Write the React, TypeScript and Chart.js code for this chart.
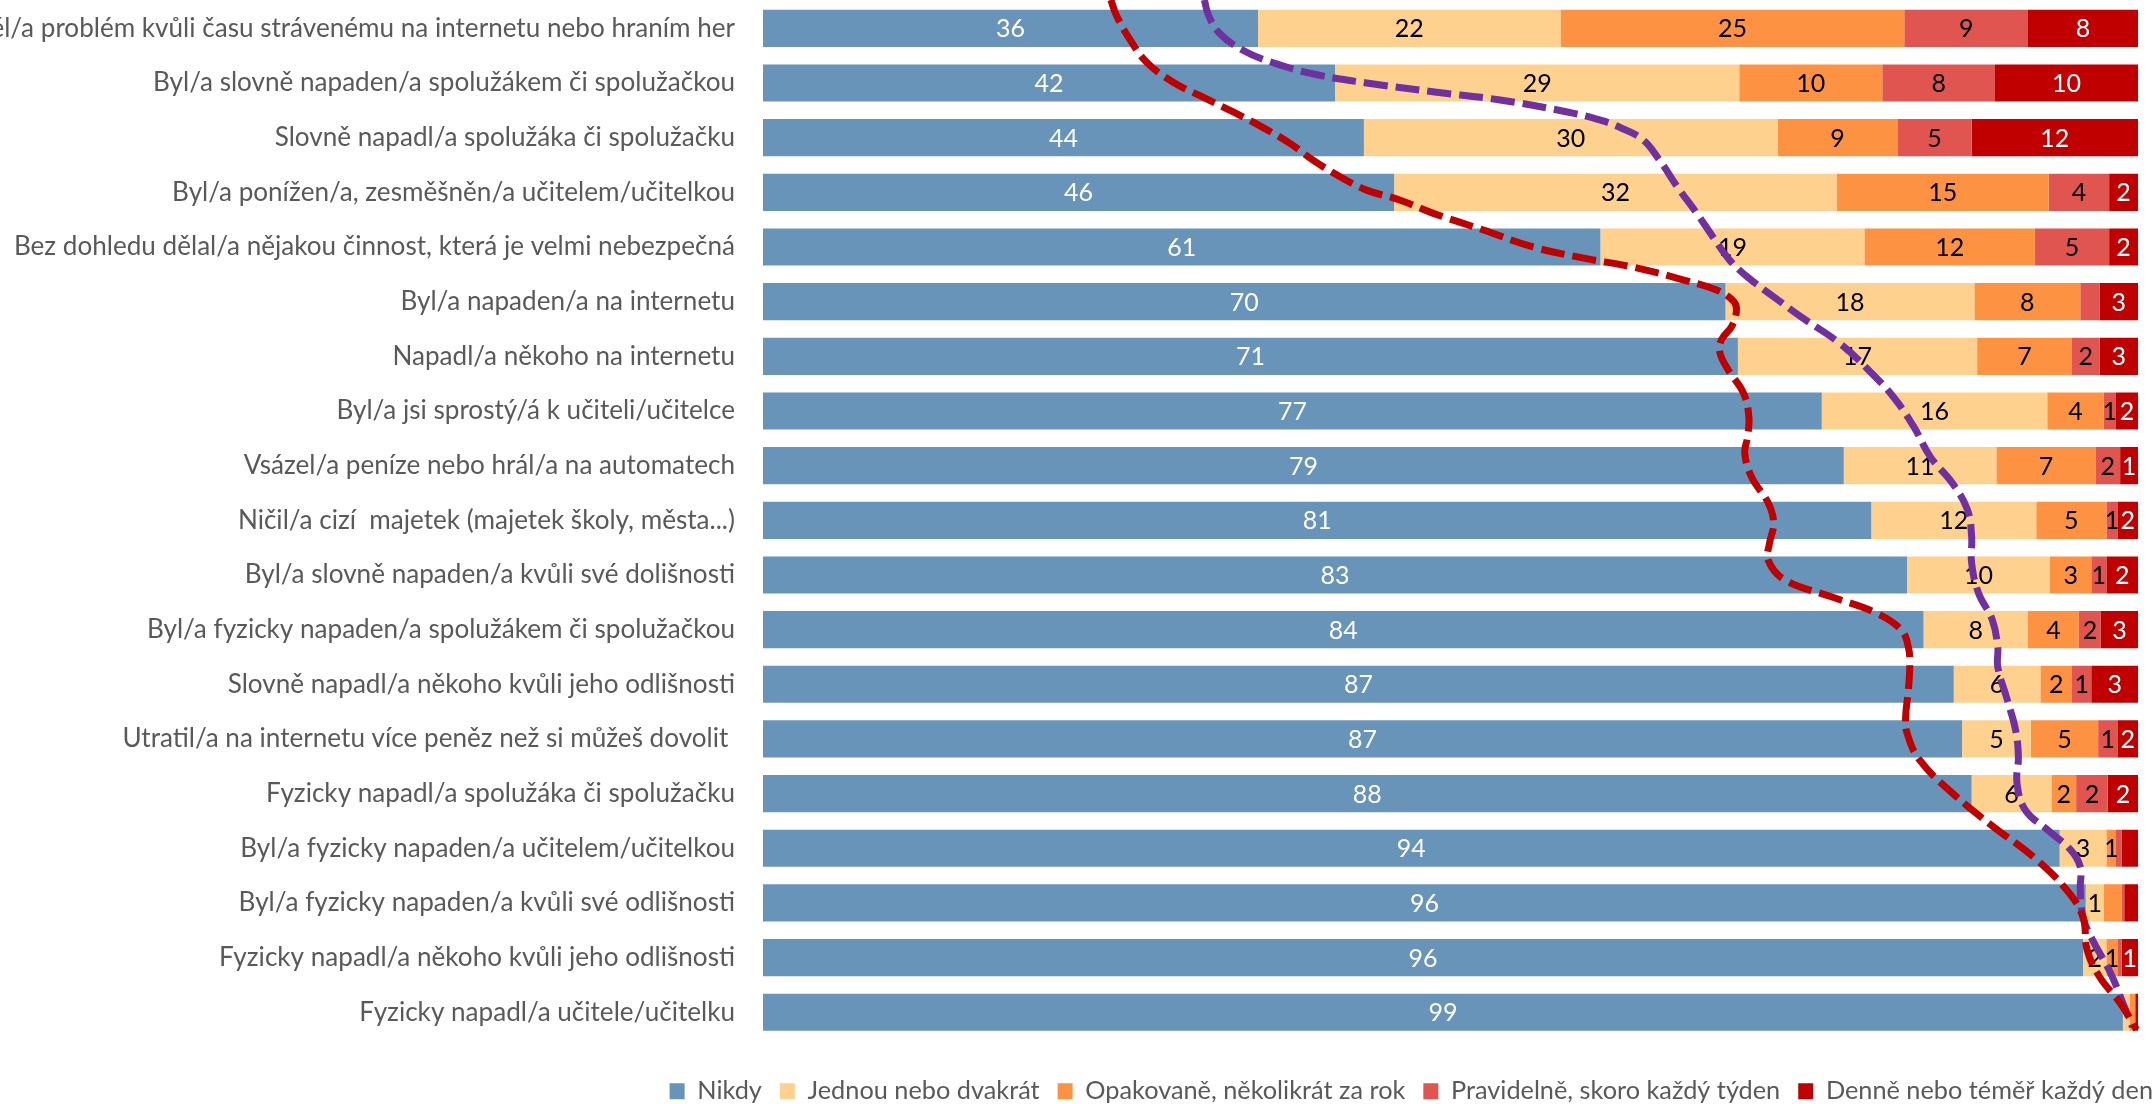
import React, { useEffect, useRef } from 'react';
import { Chart, registerables } from 'chart.js';

Chart.register(...registerables);

// ---------- data ----------
const categories = [
  'Měl/a problém kvůli času strávenému na internetu nebo hraním her',
  'Byl/a slovně napaden/a spolužákem či spolužačkou',
  'Slovně napadl/a spolužáka či spolužačku',
  'Byl/a ponížen/a, zesměšněn/a učitelem/učitelkou',
  'Bez dohledu dělal/a nějakou činnost, která je velmi nebezpečná',
  'Byl/a napaden/a na internetu',
  'Napadl/a někoho na internetu',
  'Byl/a jsi sprostý/á k učiteli/učitelce',
  'Vsázel/a peníze nebo hrál/a na automatech',
  'Ničil/a cizí  majetek (majetek školy, města...)',
  'Byl/a slovně napaden/a kvůli své dolišnosti',
  'Byl/a fyzicky napaden/a spolužákem či spolužačkou',
  'Slovně napadl/a někoho kvůli jeho odlišnosti',
  'Utratil/a na internetu více peněz než si můžeš dovolit ',
  'Fyzicky napadl/a spolužáka či spolužačku',
  'Byl/a fyzicky napaden/a učitelem/učitelkou',
  'Byl/a fyzicky napaden/a kvůli své odlišnosti',
  'Fyzicky napadl/a někoho kvůli jeho odlišnosti',
  'Fyzicky napadl/a učitele/učitelku',
];

const seriesNames = [
  'Nikdy',
  'Jednou nebo dvakrát',
  'Opakovaně, několikrát za rok',
  'Pravidelně, skoro každý týden',
  'Denně nebo téměř každý den',
];

const nikdy = [36, 41.6, 43.7, 45.9, 60.9, 70.0, 70.9, 77.0, 78.6, 80.6, 83.2, 84.4, 86.6, 87.2, 87.9, 94.3, 96.2, 96.0, 98.9];
const jednou = [22, 29.4, 30.1, 32.2, 19.2, 18.1, 17.4, 16.4, 11.1, 12.0, 10.4, 7.6, 6.3, 5.0, 5.8, 3.4, 1.3, 1.7, 0.5];
const opakovane = [25, 10.4, 8.7, 15.4, 12.4, 7.7, 6.9, 4.1, 7.2, 5.1, 3.0, 3.7, 2.3, 4.9, 1.8, 0.7, 1.3, 0.8, 0.4];
const pravidelne = [9, 8.2, 5.4, 4.4, 5.4, 1.4, 2.0, 0.9, 1.8, 0.8, 1.1, 1.6, 1.4, 1.4, 2.3, 0.4, 0.2, 0.3, 0.0];
const denne = [8, 10.4, 12.1, 2.1, 2.1, 2.8, 2.8, 1.6, 1.3, 1.5, 2.3, 2.7, 3.4, 1.5, 2.2, 1.2, 1.0, 1.2, 0.2];

// rows whose value label is not shown in the original
const hiddenNikdy: number[] = [];
const hiddenJednou = [18];
const hiddenOpakovane = [16, 18];
const hiddenPravidelne = [5, 15, 16, 17, 18];
const hiddenDenne = [15, 16, 18];

// dashed red curve: x in %, row position (0 = first category, fractional between rows)
const redCurveX = [25.3, 25.7, 26.7, 27.9, 29.8, 32.0, 34.2, 36.4, 38.3, 40.0, 42.0, 43.9, 46.3, 48.7, 52.4, 56.0, 59.6, 63.3, 66.9, 69.4, 70.5, 70.8, 70.5, 69.7, 69.6, 70.2, 71.3, 71.7, 71.6, 71.4, 71.9, 73.1, 73.5, 73.2, 73.1, 74.3, 77.7, 81.0, 82.8, 83.3, 83.4, 83.3, 83.1, 83.2, 84.1, 86.5, 89.5, 92.4, 94.8, 96.0, 96.3, 97.2, 98.7, 99.9];
const redCurveRow = [-0.52, -0.24, 0.21, 0.62, 0.98, 1.26, 1.53, 1.82, 2.10, 2.41, 2.72, 2.96, 3.14, 3.38, 3.69, 4.00, 4.20, 4.37, 4.60, 4.79, 4.97, 5.12, 5.43, 5.70, 5.94, 6.25, 6.67, 7.11, 7.48, 7.77, 8.21, 8.68, 9.05, 9.42, 9.73, 10.09, 10.40, 10.70, 11.01, 11.32, 11.65, 12.10, 12.60, 12.89, 13.38, 13.99, 14.61, 15.16, 15.76, 16.26, 16.86, 17.35, 17.83, 18.32];

// dashed purple curve
const purpleCurveX = [32.1, 32.4, 33.2, 34.9, 37.1, 40.3, 43.9, 48.7, 53.6, 58.5, 60.9, 62.3, 64.0, 65.2, 66.5, 67.9, 69.1, 70.3, 71.6, 73.5, 75.5, 78.3, 80.4, 82.2, 83.7, 84.9, 86.5, 87.6, 87.9, 87.9, 88.4, 89.4, 89.8, 89.8, 90.5, 91.1, 91.3, 91.2, 91.8, 93.4, 95.1, 95.8, 95.8, 96.0, 96.7, 98.0, 98.9, 99.6];
const purpleCurveRow = [-0.52, -0.24, 0.09, 0.40, 0.63, 0.85, 1.00, 1.16, 1.31, 1.53, 1.68, 1.81, 2.04, 2.41, 2.90, 3.38, 3.82, 4.24, 4.55, 4.91, 5.28, 5.76, 6.25, 6.74, 7.29, 7.84, 8.32, 8.81, 9.30, 9.78, 10.33, 10.82, 11.32, 11.68, 12.29, 12.84, 13.33, 13.81, 14.30, 14.66, 15.03, 15.34, 15.76, 16.26, 16.68, 17.28, 17.83, 18.27];

// ---------- styling ----------
const seriesColors = ['#6794B8', '#FED18F', '#FD9242', '#E15550', '#C00000'];
const labelColors = ['#FFFFFF', '#000000', '#000000', '#000000', '#FFFFFF'];
const TEXT_FAMILY = 'Lato, "Open Sans", sans-serif';
const NUM_FAMILY = 'Lato, "Open Sans", sans-serif';

const VIEW_W = 2156;
const VIEW_H = 1104;
const CANVAS_W = 2171;
const PLOT_LEFT = 763;
const PLOT_RIGHT = 2138;
const PLOT_TOP = 1;
const PLOT_H = 1038.6;
const X_AXIS_H = 21;
const LEGEND_PAD = 18;
const LEGEND_BOX_W = 15;
const LEGEND_BOX_H = 16;
const LEGEND_SPAN = 1486; // from first legend box to end of last text

function textWidth100(text: string): number {
  const c = document.createElement('canvas').getContext('2d')!;
  c.font = `100px ${TEXT_FAMILY}`;
  return c.measureText(text).width;
}

export default function App() {
  const ref = useRef<HTMLCanvasElement>(null);

  useEffect(() => {
    const canvas = ref.current!;
    const tickFs = Math.round((1000 * 721) / textWidth100(categories[4])) / 10;
    const sumText = seriesNames.reduce((s, n) => s + textWidth100(n), 0) / 100;
    const legendFs =
      Math.round(
        (10 * (LEGEND_SPAN - seriesNames.length * LEGEND_BOX_W - (seriesNames.length - 1) * LEGEND_PAD)) /
          (seriesNames.length / 2 + sumText),
      ) / 10;
    const legendH = Math.max(legendFs, LEGEND_BOX_H) + LEGEND_PAD + 10;
    const H = Math.ceil(PLOT_TOP + PLOT_H + X_AXIS_H + legendH);
    const padBottom = H - (PLOT_TOP + PLOT_H + X_AXIS_H + legendH);
    canvas.width = CANVAS_W;
    canvas.height = H;
    canvas.style.width = CANVAS_W + 'px';
    canvas.style.height = H + 'px';

    const values = [nikdy, jednou, opakovane, pravidelne, denne];
    const hidden = [hiddenNikdy, hiddenJednou, hiddenOpakovane, hiddenPravidelne, hiddenDenne];

    const barSets: any[] = values.map((v, i) => ({
      type: 'bar',
      label: seriesNames[i],
      data: v,
      backgroundColor: seriesColors[i],
      borderWidth: 0,
      barPercentage: 0.68,
      categoryPercentage: 1,
      grouped: false,
      xAxisID: 'x',
      yAxisID: 'y',
      stack: 'bars',
      order: 1,
    }));

    const curve = (xs: number[], rows: number[], color: string, name: string) => ({
      type: 'line',
      label: name,
      data: xs.map((x, i) => ({ x, y: rows[i] })),
      parsing: false,
      normalized: true,
      indexAxis: 'y',
      xAxisID: 'x',
      yAxisID: 'y',
      borderColor: color,
      backgroundColor: color,
      borderWidth: 7,
      borderDash: [24, 8],
      borderCapStyle: 'butt',
      pointRadius: 0,
      tension: 0.4,
      fill: false,
      order: 0,
      stack: name,
      clip: false,
    });

    const labelPlugin = {
      id: 'segLabels',
      afterDatasetDraw(chart: any, args: any) {
        const meta = args.meta;
        if (meta.type !== 'bar') return;
        const idx = args.index;
        const data = chart.data.datasets[idx].data as number[];
        const ctx = chart.ctx;
        ctx.save();
        ctx.font = `25px ${NUM_FAMILY}`;
        ctx.textAlign = 'center';
        ctx.textBaseline = 'middle';
        ctx.fillStyle = labelColors[idx];
        meta.data.forEach((el: any, i: number) => {
          if (hidden[idx].includes(i)) return;
          const p = el.getProps(['x', 'y', 'base'], true);
          ctx.fillText(String(Math.round(data[i])), (p.x + p.base) / 2, p.y + 1);
        });
        ctx.restore();
      },
    };

    const chart = new Chart(canvas, {
      type: 'bar',
      data: {
        labels: categories,
        datasets: [
          ...barSets,
          curve(redCurveX, redCurveRow, '#C00000', 'curveRed'),
          curve(purpleCurveX, purpleCurveRow, '#7030A0', 'curvePurple'),
        ],
      },
      options: {
        indexAxis: 'y',
        responsive: false,
        animation: false,
        devicePixelRatio: 1,
        events: [],
        layout: { padding: { left: 0, right: 0, top: PLOT_TOP, bottom: padBottom } },
        scales: {
          x: {
            type: 'linear',
            position: 'bottom',
            stacked: true,
            min: 0,
            max: 100,
            ticks: { display: false },
            grid: { display: false, drawTicks: false },
            border: { display: false },
            afterFit: (s: any) => {
              s.height = X_AXIS_H;
            },
          },
          y: {
            type: 'category',
            position: 'left',
            stacked: true,
            offset: true,
            grid: { display: false, drawTicks: false },
            border: { display: false },
            ticks: {
              autoSkip: false,
              padding: 28,
              color: '#595959',
              font: { family: TEXT_FAMILY, size: tickFs },
            },
            afterFit: (s: any) => {
              s.width = PLOT_LEFT;
              s.paddingTop = 0;
              s.paddingBottom = 0;
            },
          },
          // empty right-hand spacer so the plot ends where the original does
          yr: {
            type: 'linear',
            position: 'right',
            ticks: { display: false },
            grid: { display: false, drawTicks: false },
            border: { display: false },
            afterFit: (s: any) => {
              s.width = CANVAS_W - PLOT_RIGHT;
              s.paddingTop = 0;
              s.paddingBottom = 0;
            },
          },
        },
        plugins: {
          tooltip: { enabled: false },
          legend: {
            position: 'bottom',
            align: 'end',
            labels: {
              boxWidth: LEGEND_BOX_W,
              boxHeight: LEGEND_BOX_H,
              padding: LEGEND_PAD,
              color: '#595959',
              font: { family: TEXT_FAMILY, size: legendFs },
              filter: (item: any) => item.datasetIndex < 5,
            },
          },
        },
      } as any,
      plugins: [labelPlugin],
    } as any);

    return () => chart.destroy();
  }, []);

  return (
    <div
      style={{
        position: 'absolute',
        left: 0,
        top: 0,
        width: VIEW_W,
        height: VIEW_H,
        overflow: 'hidden',
        background: '#ffffff',
      }}
    >
      <canvas ref={ref} style={{ display: 'block' }} />
    </div>
  );
}
